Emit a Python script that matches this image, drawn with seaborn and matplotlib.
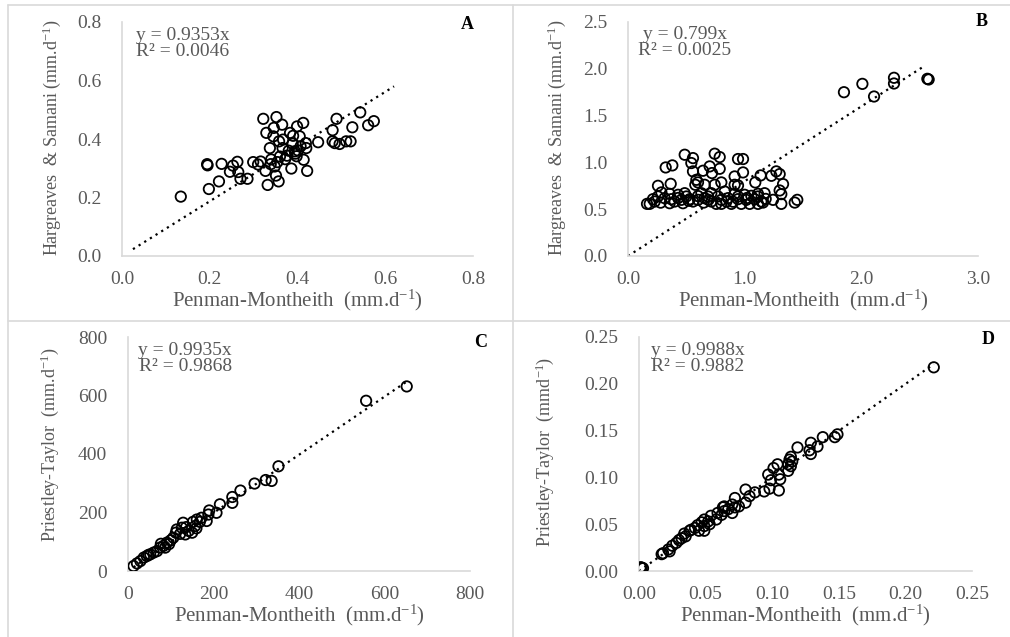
import numpy as np
import pandas as pd
import matplotlib
matplotlib.use("Agg")
import matplotlib.pyplot as plt
import seaborn as sns
from matplotlib.ticker import FormatStrFormatter, MultipleLocator
from matplotlib.lines import Line2D

# ---------------- data ----------------
a_x = [0.134, 0.194, 0.195, 0.198, 0.221, 0.227, 0.253, 0.246, 0.263, 0.265, 0.270, 0.286,
       0.299, 0.310, 0.316, 0.322, 0.329, 0.327, 0.332, 0.337, 0.339, 0.345, 0.346, 0.348,
       0.351, 0.352, 0.354, 0.357, 0.358, 0.365, 0.366, 0.367, 0.372, 0.376, 0.383, 0.386,
       0.389, 0.390, 0.394, 0.398, 0.399, 0.401, 0.405, 0.407, 0.413, 0.414, 0.419, 0.420,
       0.422, 0.447, 0.480, 0.480, 0.489, 0.485, 0.496, 0.511, 0.521, 0.525, 0.543, 0.561,
       0.574, 0.380, 0.395, 0.360, 0.340]
a_y = [0.203, 0.314, 0.310, 0.229, 0.255, 0.315, 0.309, 0.288, 0.322, 0.287, 0.264, 0.264,
       0.321, 0.313, 0.323, 0.469, 0.421, 0.291, 0.243, 0.369, 0.314, 0.409, 0.438, 0.306,
       0.275, 0.475, 0.321, 0.255, 0.392, 0.449, 0.369, 0.398, 0.331, 0.343, 0.421, 0.299,
       0.384, 0.411, 0.358, 0.341, 0.443, 0.361, 0.409, 0.375, 0.455, 0.329, 0.386, 0.369,
       0.291, 0.389, 0.430, 0.392, 0.469, 0.386, 0.383, 0.392, 0.392, 0.440, 0.491, 0.447,
       0.461, 0.360, 0.350, 0.340, 0.330]

b_x = [1.851, 2.009, 2.109, 2.280, 2.280, 2.566, 2.577,
       0.486, 0.557, 0.543, 0.743, 0.786, 0.943, 0.986, 0.323, 0.380, 0.557, 0.643, 0.700,
       0.720, 0.786, 0.914, 0.986, 1.137, 1.229, 1.271, 1.300, 0.257, 0.366, 0.586, 0.577,
       0.600, 0.743, 0.800, 0.943, 1.091, 1.329, 1.300, 1.314, 1.171, 1.114, 0.286, 0.357,
       0.429, 0.486, 0.629, 0.714, 0.829, 0.914, 1.000, 1.057, 0.214, 0.257, 0.314, 0.371,
       0.457, 0.529, 0.600, 0.657, 0.800, 0.857, 0.943, 1.014, 1.086, 1.143, 1.243, 1.451,
       0.163, 0.186, 0.229, 0.357, 0.471, 0.557, 0.649, 0.714, 0.800, 0.886, 0.971, 1.043,
       1.114, 1.157, 1.314, 1.429, 0.400, 0.500, 0.686, 0.771, 0.943, 1.114, 0.657, 0.914,
       0.757, 0.843, 0.430, 0.520, 0.900, 1.020, 0.690, 0.600, 1.180, 0.280]
b_y = [1.750, 1.839, 1.704, 1.904, 1.843, 1.893, 1.886,
       1.082, 1.046, 0.993, 1.093, 1.057, 1.036, 1.036, 0.946, 0.968, 0.904, 0.911, 0.957,
       0.886, 0.932, 0.850, 0.893, 0.861, 0.857, 0.904, 0.875, 0.750, 0.771, 0.814, 0.761,
       0.786, 0.761, 0.786, 0.754, 0.786, 0.768, 0.700, 0.661, 0.671, 0.664, 0.679, 0.664,
       0.654, 0.671, 0.671, 0.671, 0.689, 0.664, 0.654, 0.643, 0.607, 0.636, 0.618, 0.607,
       0.600, 0.607, 0.600, 0.618, 0.600, 0.618, 0.607, 0.600, 0.607, 0.582, 0.600, 0.600,
       0.557, 0.557, 0.582, 0.564, 0.564, 0.582, 0.571, 0.582, 0.557, 0.557, 0.557, 0.557,
       0.557, 0.571, 0.557, 0.571, 0.582, 0.636, 0.636, 0.636, 0.636, 0.636, 0.761, 0.761,
       0.557, 0.582, 0.620, 0.590, 0.580, 0.620, 0.600, 0.640, 0.610, 0.570]

c_x = [652, 557, 352, 336, 322, 296, 263, 244, 244, 215, 207, 190, 188, 184, 172, 161,
       152, 160, 136, 129, 114, 112, 122, 142, 150, 100, 96, 77, 75, 87, 68, 48, 44, 37,
       29, 21, 13, 60, 106, 134, 83, 52, 91, 126, 168, 157]
c_y = [631, 582, 358, 308, 311, 299, 275, 253, 233, 228, 199, 207, 193, 171, 182, 176,
       168, 146, 150, 165, 142, 131, 127, 137, 131, 105, 92, 93, 80, 80, 68, 55, 51, 46,
       34, 26, 17, 63, 114, 125, 86, 57, 97, 148, 168, 154]

d_x = [0.2213, 0.149, 0.147, 0.138, 0.134, 0.129, 0.129, 0.128, 0.119, 0.114, 0.113, 0.115,
       0.112, 0.114, 0.112, 0.104, 0.101, 0.097, 0.105, 0.106, 0.099, 0.105, 0.098, 0.094,
       0.080, 0.083, 0.080, 0.072, 0.070, 0.072, 0.070, 0.063, 0.064, 0.062, 0.059, 0.054,
       0.058, 0.052, 0.049, 0.047, 0.049, 0.044, 0.049, 0.045, 0.039, 0.035, 0.034, 0.030,
       0.028, 0.025, 0.022, 0.018, 0.017, 0.023, 0.002, 0.003, 0.0012, 0.042, 0.053, 0.064,
       0.067, 0.075, 0.087, 0.032, 0.038]
d_y = [0.2176, 0.146, 0.143, 0.143, 0.133, 0.137, 0.125, 0.129, 0.132, 0.122, 0.119, 0.117,
       0.114, 0.112, 0.107, 0.114, 0.110, 0.103, 0.103, 0.098, 0.097, 0.086, 0.088, 0.085,
       0.087, 0.080, 0.073, 0.078, 0.071, 0.068, 0.062, 0.068, 0.064, 0.060, 0.062, 0.059,
       0.055, 0.053, 0.055, 0.052, 0.048, 0.049, 0.043, 0.043, 0.044, 0.037, 0.040, 0.033,
       0.030, 0.027, 0.023, 0.019, 0.018, 0.021, 0.0036, 0.003, 0.004, 0.046, 0.050, 0.069,
       0.066, 0.069, 0.084, 0.035, 0.043]

slopes = [0.9353, 0.799, 0.9935, 0.9988]
trend_x = [[0.025, 0.62], [0.0, 2.53], [13, 652], [0.0, 0.2213]]
equations = ["y = 0.9353x\nR² = 0.0046", "y = 0.799x\nR² = 0.0025",
             "y = 0.9935x\nR² = 0.9868", "y = 0.9988x\nR² = 0.9882"]
panel_letters = ["A", "B", "C", "D"]
ylabels = ["Hargreaves  & Samani (mm.d$^{-1}$)", "Hargreaves  & Samani (mm.d$^{-1}$)",
           "Priestley-Taylor  (mm.d$^{-1}$)", "Priestley-Taylor  (mmd$^{-1}$)"]
xlabel = "Penman-Montheith  (mm.d$^{-1}$)"
x_limits = [(0, 0.8), (0, 3.0), (0, 800), (0, 0.25)]
y_limits = [(0, 0.8), (0, 2.5), (0, 800), (0, 0.25)]
x_steps = [0.2, 1.0, 200, 0.05]
y_steps = [0.2, 0.5, 200, 0.05]
x_fmt = ["%.1f", "%.1f", "%d", "%.2f"]
y_fmt = ["%.1f", "%.1f", "%d", "%.2f"]

# ---------------- style ----------------
sns.set_theme(style="white")
plt.rcParams["font.family"] = ["Liberation Serif", "DejaVu Serif"]
plt.rcParams["mathtext.default"] = "regular"
GRAY_TXT = "#595959"
GRAY_LINE = "#d9d9d9"

fig = plt.figure(figsize=(10.10, 6.37), dpi=100)
fig.patch.set_facecolor("white")

W, H = 1010, 637
# axes boxes in pixel coords: left, right, top, bottom
boxes = [(122, 473, 22, 256), (628, 978, 22, 256), (128, 470, 337, 571), (639, 972, 337, 571)]
letter_pos = [(0.983, 0.99), (1.011, 1.0), (1.03, 0.975), (1.048, 0.99)]
eq_pos = [(0.04, 0.98), (0.03, 0.985), (0.03, 0.98), (0.035, 0.98)]
ylabel_pos = [(-0.199, 0.506), (-0.203, 0.506), (-0.228, 0.54), (-0.282, 0.51)]

xs = [a_x, b_x, c_x, d_x]
ys = [a_y, b_y, c_y, d_y]

for i in range(4):
    l, r, t, b = boxes[i]
    ax = fig.add_axes([l / W, 1 - b / H, (r - l) / W, (b - t) / H])
    df = pd.DataFrame({"x": xs[i], "y": ys[i]})
    sns.scatterplot(data=df, x="x", y="y", ax=ax, s=56, marker="o",
                    facecolor="none", edgecolor="black", linewidth=1.3, zorder=3)
    tx = np.array(trend_x[i], dtype=float)
    tdf = pd.DataFrame({"x": tx, "y": slopes[i] * tx})
    sns.lineplot(data=tdf, x="x", y="y", ax=ax, color="black", linewidth=1.6,
                 linestyle=(0, (1, 2)), zorder=2)
    ax.set_xlim(*x_limits[i])
    ax.set_ylim(*y_limits[i])
    ax.xaxis.set_major_locator(MultipleLocator(x_steps[i]))
    ax.yaxis.set_major_locator(MultipleLocator(y_steps[i]))
    ax.xaxis.set_major_formatter(FormatStrFormatter(x_fmt[i]))
    ax.yaxis.set_major_formatter(FormatStrFormatter(y_fmt[i]))
    ax.tick_params(axis="y", length=0, pad=15, labelsize=14, labelcolor=GRAY_TXT)
    ax.tick_params(axis="x", length=0, pad=10.5, labelsize=14, labelcolor=GRAY_TXT)
    for sp in ["top", "right"]:
        ax.spines[sp].set_visible(False)
    for sp in ["left", "bottom"]:
        ax.spines[sp].set_color(GRAY_LINE)
        ax.spines[sp].set_linewidth(1.2)
    ax.grid(False)
    ax.set_facecolor("none")
    ax.set_xlabel(xlabel, fontsize=15, color=GRAY_TXT, va="center")
    ax.xaxis.set_label_coords(0.5, -0.19)
    ax.set_ylabel(ylabels[i], fontsize=13, color=GRAY_TXT, va="center")
    ax.yaxis.set_label_coords(*ylabel_pos[i])
    ax.text(eq_pos[i][0], eq_pos[i][1], equations[i], transform=ax.transAxes,
            ha="left", va="top", multialignment="center", fontsize=14,
            color=GRAY_TXT, linespacing=0.95)
    ax.text(letter_pos[i][0], letter_pos[i][1], panel_letters[i], transform=ax.transAxes,
            ha="center", va="center", fontsize=13, fontweight="bold", color="black")
    if ax.get_legend() is not None:
        ax.get_legend().remove()

# panel borders
def fl(x0, y0, x1, y1):
    fig.add_artist(Line2D([x0 / W, x1 / W], [1 - y0 / H, 1 - y1 / H],
                          transform=fig.transFigure, color=GRAY_LINE, linewidth=1.2))

fl(8, 5, W, 5)
fl(8, 5, 8, H)
fl(513, 5, 513, H)
fl(8, 321, W, 321)

fig.savefig("out.png", dpi=100, facecolor="white")
